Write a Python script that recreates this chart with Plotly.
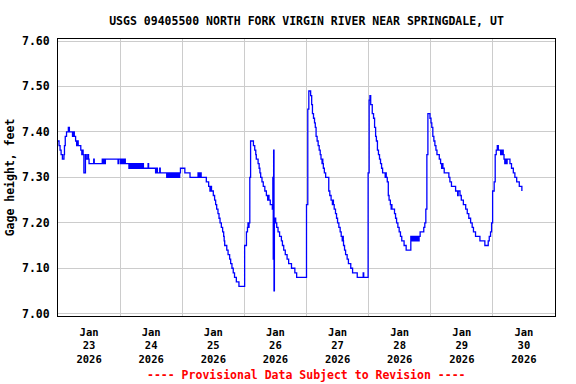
import pandas as pd
import plotly.graph_objects as go

# ---- data -----------------------------------------------------------------
title_text = "USGS 09405500 NORTH FORK VIRGIN RIVER NEAR SPRINGDALE, UT"
footer_text = "---- Provisional Data Subject to Revision ----"
y_title = "Gage height, feet"
start_time = "2026-01-23 00:00"

# hours after Jan 23 2026 00:00 at which the reading changes
hours = [
    0.0, 0.4, 0.8, 1.2, 1.7, 2.3, 2.5, 2.8, 3.3, 4.0, 4.4, 5.6, 6.0, 6.3, 6.8, 7.2, 7.5, 7.8,
    8.8, 9.2, 9.5, 9.7, 10.0, 10.6, 10.9, 11.5, 11.8, 12.0, 13.8, 14.0, 17.1, 17.4, 17.7, 18.0,
    18.3, 23.2, 23.4, 24.1, 24.4, 24.7, 25.0, 25.3, 25.6, 26.0,
    27.4, 27.8, 28.2, 28.6, 29.0, 29.4, 29.8, 30.2, 30.6, 31.0, 31.4, 31.8, 32.2, 32.6, 33.0,
    34.8, 35.0, 37.7, 37.9, 38.4, 39.3, 39.5,
    42.0, 42.4, 42.8, 43.2, 43.6, 44.0, 44.4, 44.8, 45.2, 45.6, 46.0, 46.4, 46.8, 47.0, 47.3,
    49.0, 51.0, 54.1, 54.5, 54.9, 55.3, 55.6,
    57.3, 58.2, 58.7, 59.0, 59.3, 60.0, 60.5, 60.9, 61.3, 61.8, 62.2, 62.6, 63.1, 63.6, 64.0,
    64.2, 64.4, 65.2, 65.7, 66.3, 66.7, 67.2, 67.7, 68.2, 68.9, 69.9,
    72.1, 72.8, 73.2, 73.4, 73.6, 73.8, 74.1, 74.4, 75.5, 76.0, 76.4, 76.6, 77.3, 77.7, 78.0,
    78.3, 78.8, 79.3, 79.9, 80.5, 81.0, 81.3, 81.5, 82.0, 82.8, 83.0, 83.15, 83.3, 83.45, 83.6,
    84.1, 84.5, 85.0, 85.6, 86.3, 86.7, 87.2, 87.8, 88.5, 89.1, 90.2, 91.5, 92.2,
    96.0, 96.5, 96.9, 97.6, 98.0, 98.3, 98.7, 99.1, 99.4, 99.7, 100.1, 100.5, 100.9, 101.3,
    101.6, 102.0, 102.2, 102.3, 102.5, 102.9, 103.4, 104.6, 105.0, 105.5, 106.0, 106.2, 106.4,
    106.7, 107.2, 107.6, 108.0, 108.5, 109.0, 109.4, 109.8, 110.1, 110.2, 110.3, 110.7, 111.1,
    111.7, 112.2, 113.1, 113.8, 115.6, 117.9, 118.1,
    119.8, 120.2, 120.5, 120.8, 121.4, 121.9, 122.3, 122.7, 123.0, 123.4, 123.8, 124.2, 124.6,
    125.0, 125.4, 126.4, 126.6, 126.8, 127.2, 127.6, 127.9, 128.4, 128.7, 128.9, 129.0, 130.0,
    130.4, 130.8, 131.3, 131.8, 132.3, 132.8, 133.7, 134.5,
    136.3, 136.6, 137.0, 137.4, 137.8, 138.2, 138.6, 139.0, 139.5, 139.9, 141.3, 141.7,
    142.1, 142.5, 142.9, 143.7, 144.1, 144.4, 144.8, 145.2, 145.6, 146.0, 146.4, 147.3, 147.8,
    148.2, 148.5, 148.7, 149.2, 151.0, 151.4, 152.0, 153.6, 154.4, 154.6, 155.3, 155.8, 156.6,
    157.5, 158.1, 158.7, 159.4, 160.0, 160.5, 161.3, 163.0, 164.9, 166.2, 166.6, 167.1, 167.5,
    167.9, 168.5, 168.9, 169.3, 169.7, 170.1, 171.0, 171.2, 171.4, 171.6, 172.0, 172.3, 172.6,
    172.9, 173.2, 173.5, 174.6, 175.2, 175.9, 176.5, 177.2, 178.2, 179.2,
]

gage_height = [
    7.38, 7.37, 7.36, 7.35, 7.34, 7.35, 7.37, 7.39, 7.40, 7.41, 7.40, 7.39, 7.40, 7.39, 7.38, 7.37, 7.38, 7.37,
    7.36, 7.35, 7.36, 7.35, 7.31, 7.35, 7.34, 7.35, 7.34, 7.33, 7.34, 7.33, 7.34, 7.33, 7.34, 7.33,
    7.34, 7.33, 7.34, 7.33, 7.34, 7.33, 7.34, 7.33, 7.34, 7.33,
    7.32, 7.33, 7.32, 7.33, 7.32, 7.33, 7.32, 7.33, 7.32, 7.33, 7.32, 7.33, 7.32, 7.33, 7.32,
    7.33, 7.32, 7.31, 7.32, 7.31, 7.32, 7.31,
    7.30, 7.31, 7.30, 7.31, 7.30, 7.31, 7.30, 7.31, 7.30, 7.31, 7.30, 7.31, 7.30, 7.31, 7.32,
    7.31, 7.30, 7.31, 7.30, 7.31, 7.30, 7.30,
    7.29, 7.28, 7.27, 7.28, 7.27, 7.26, 7.25, 7.24, 7.23, 7.22, 7.21, 7.20, 7.19, 7.18, 7.17,
    7.16, 7.15, 7.14, 7.13, 7.12, 7.11, 7.10, 7.09, 7.08, 7.07, 7.06,
    7.15, 7.18, 7.19, 7.20, 7.19, 7.20, 7.30, 7.38, 7.37, 7.36, 7.35, 7.34, 7.33, 7.32, 7.31,
    7.30, 7.29, 7.28, 7.27, 7.26, 7.25, 7.26, 7.25, 7.24, 7.23, 7.30, 7.12, 7.36, 7.05, 7.21,
    7.20, 7.19, 7.18, 7.17, 7.16, 7.15, 7.14, 7.13, 7.12, 7.11, 7.10, 7.09, 7.08,
    7.24, 7.45, 7.49, 7.48, 7.46, 7.44, 7.43, 7.42, 7.41, 7.39, 7.38, 7.37, 7.36, 7.35,
    7.34, 7.33, 7.34, 7.33, 7.32, 7.31, 7.30, 7.27, 7.26, 7.25, 7.24, 7.25, 7.24,
    7.23, 7.22, 7.21, 7.20, 7.19, 7.18, 7.17, 7.16, 7.17, 7.16, 7.15, 7.14, 7.13,
    7.12, 7.11, 7.10, 7.09, 7.08, 7.09, 7.08,
    7.31, 7.47, 7.48, 7.46, 7.44, 7.43, 7.41, 7.39, 7.38, 7.36, 7.35, 7.34, 7.33,
    7.32, 7.31, 7.30, 7.31, 7.30, 7.29, 7.26, 7.25, 7.24, 7.23, 7.24, 7.23, 7.22,
    7.21, 7.20, 7.19, 7.18, 7.17, 7.16, 7.15, 7.14,
    7.17, 7.16, 7.17, 7.16, 7.17, 7.16, 7.17, 7.16, 7.17, 7.18, 7.19, 7.20,
    7.23, 7.35, 7.44, 7.43, 7.42, 7.41, 7.39, 7.38, 7.37, 7.36, 7.35, 7.34, 7.33,
    7.32, 7.33, 7.32, 7.31, 7.30, 7.29, 7.28, 7.27, 7.26, 7.27, 7.26, 7.25, 7.24,
    7.23, 7.22, 7.21, 7.20, 7.19, 7.18, 7.17, 7.16, 7.15, 7.16, 7.17, 7.18, 7.20,
    7.27, 7.29, 7.35, 7.36, 7.37, 7.36, 7.35, 7.36, 7.35, 7.36, 7.35, 7.34, 7.33,
    7.34, 7.33, 7.34, 7.33, 7.32, 7.31, 7.30, 7.29, 7.28, 7.27,
]

day_dates = ["2026-01-23", "2026-01-24", "2026-01-25", "2026-01-26",
             "2026-01-27", "2026-01-28", "2026-01-29", "2026-01-30"]
day_labels = ["Jan<br>23<br>2026", "Jan<br>24<br>2026", "Jan<br>25<br>2026", "Jan<br>26<br>2026",
              "Jan<br>27<br>2026", "Jan<br>28<br>2026", "Jan<br>29<br>2026", "Jan<br>30<br>2026"]
grid_dates = ["2026-01-24", "2026-01-25", "2026-01-26", "2026-01-27",
              "2026-01-28", "2026-01-29", "2026-01-30"]
x_range = ["2026-01-23 00:00", "2026-01-31 00:00"]
y_ticks = [7.00, 7.10, 7.20, 7.30, 7.40, 7.50, 7.60]
y_range = [6.9949, 7.6044]

# ---- figure -----------------------------------------------------------------
times = pd.Timestamp(start_time) + pd.to_timedelta(hours, unit="h")
label_pos = [pd.Timestamp(d) + pd.Timedelta(hours=12) for d in day_dates]

FONT = "DejaVu Sans Mono"

fig = go.Figure()
fig.add_trace(go.Scatter(
    x=times, y=gage_height, mode="lines",
    line=dict(color="#0000ff", width=1.3, shape="hv"),
    hoverinfo="skip", showlegend=False,
))

fig.update_layout(
    width=576, height=384,
    margin=dict(l=58, r=21, t=39, b=68, autoexpand=False),
    paper_bgcolor="white", plot_bgcolor="white",
    font=dict(family=FONT, size=11.5, color="black", weight="bold"),
    title=dict(text=title_text, x=0.5, xref="paper", xanchor="center",
               y=1 - 21 / 384, yref="container", yanchor="middle", automargin=False,
               font=dict(family=FONT, size=11.5, color="black", weight="bold")),
    showlegend=False,
)

fig.update_xaxes(
    type="date", range=x_range, automargin=False,
    tickmode="array", tickvals=label_pos, ticktext=day_labels,
    ticks="", showgrid=False, zeroline=False, ticklabelstandoff=6,
    showline=True, linecolor="black", linewidth=1, mirror=True,
    tickfont=dict(family=FONT, size=10.5, color="black", weight="bold"),
    minor=dict(tickmode="array", tickvals=grid_dates, showgrid=True,
               gridcolor="#cccccc", gridwidth=1, ticks=""),
)

fig.update_yaxes(
    range=y_range, tickmode="array", tickvals=y_ticks, automargin=False,
    tickformat=".2f", ticks="", showgrid=True, gridcolor="#cccccc", gridwidth=1,
    zeroline=False, showline=True, linecolor="black", linewidth=1, mirror=True,
    ticklabelstandoff=5,
    tickfont=dict(family=FONT, size=11.5, color="black", weight="bold"),
    title=dict(text=y_title, standoff=4,
               font=dict(family=FONT, size=11.5, color="black", weight="bold")),
)

fig.add_annotation(
    text=footer_text, xref="paper", x=0.5, xanchor="center",
    yref="paper", y=(316 - 375) / 277, yanchor="middle", showarrow=False,
    font=dict(family=FONT, size=11.5, color="#ff0000", weight="bold"),
)

# remove the browser's default 8px page margin so the figure sits at the top-left corner
fig.write_html("out.html", config={"displayModeBar": False},
               post_script="document.body.style.margin='0';")
